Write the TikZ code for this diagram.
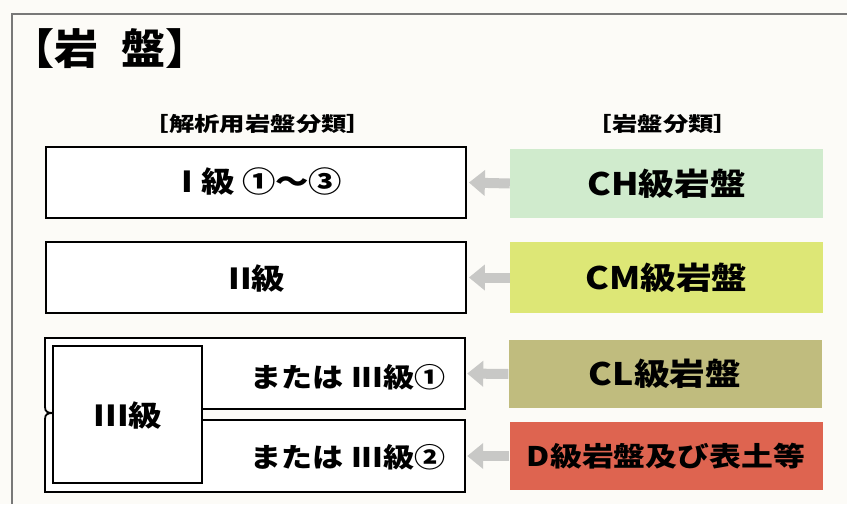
\documentclass[tikz,border=0pt]{standalone}
\usepackage{fontspec}
\usepackage{graphicx}
\setmainfont{Noto Sans CJK JP}[BoldFont={Noto Sans CJK JP Black}]
\usetikzlibrary{arrows.meta}
\definecolor{bgpaper}{RGB}{252,251,247}
\definecolor{framegray}{RGB}{120,120,120}
\definecolor{chgreen}{RGB}{208,235,205}
\definecolor{cmyellow}{RGB}{221,231,118}
\definecolor{clolive}{RGB}{192,188,126}
\definecolor{dred}{RGB}{222,100,80}
\definecolor{arrowgray}{RGB}{200,200,198}
\newcommand{\widen}[2][1.15]{\scalebox{#1}[1]{#2}}
\tikzset{
  whitebox/.style={draw=black, line width=1.8pt, fill=white, minimum width=420pt, minimum height=71pt, inner sep=0pt},
  ghostbox/.style={draw=none, minimum width=420pt, minimum height=71pt, inner sep=0pt},
  colbox/.style={draw=none, minimum width=313pt, minimum height=69pt, inner sep=0pt, font=\fontsize{31}{31}\selectfont\bfseries},
  boxtext/.style={inner sep=0pt, font=\fontsize{29}{29}\selectfont\bfseries},
  hdr/.style={inner sep=0pt, font=\fontsize{20}{20}\selectfont\bfseries},
  ptr/.style={draw=arrowgray, line width=10pt, -{Triangle[length=16pt,width=25pt]}, shorten >=2pt, shorten <=0pt},
  outline/.style={draw=black, line width=1.8pt}
}
\begin{document}
\begin{tikzpicture}[x=1pt,y=-1pt]
\useasboundingbox (0,0) rectangle (847,504);
\fill[bgpaper] (0,0) rectangle (847,504);
% frame
\draw[framegray, line width=2pt] (12,504) -- (12,14) -- (847,14);
% title
\node[inner sep=0pt, font=\fontsize{42}{42}\selectfont\bfseries] (title) at (110,49) {\widen[1.05]{【岩\hspace{22pt}盤】}};
% headers
\node[hdr] (hleft) at (258,124) {\widen[1.27]{［解析用岩盤分類］}};
\node[hdr] (hright) at (663,124) {\widen[1.27]{［岩盤分類］}};
% left boxes
\node[whitebox] (b1) at (256,182.5) {};
\node[boxtext] (t1) at (262,182) {\widen{I 級 ①〜③}};
\node[whitebox] (b2) at (256,277.5) {};
\node[boxtext] (t2) at (257,279) {\widen{II級}};
% boxes 3/4
\node[ghostbox] (b3) at (255,373.5) {};
\node[ghostbox, minimum height=72pt] (b4) at (255,456) {};
\fill[white] (45,338) rectangle (465,409);
\fill[white] (45,420) rectangle (465,492);
\draw[outline] (202,409) -- (465,409) -- (465,338) -- (45,338) -- (45,407) .. controls (45,412) and (48,413) .. (53,413);
\draw[outline] (202,420) -- (465,420) -- (465,492) -- (45,492) -- (45,419) .. controls (45,414) and (48,413) .. (53,413);
\node[draw=black, line width=1.8pt, fill=white, minimum width=149pt, minimum height=137pt, inner sep=0pt] (b3in) at (127.5,414.5) {};
\node[boxtext] (t3in) at (128,416) {\widen{III級}};
\node[boxtext, anchor=east, font=\fontsize{27}{27}\selectfont\bfseries] (t3) at (446,377) {\widen{または III級①}};
\node[boxtext, anchor=east, font=\fontsize{27}{27}\selectfont\bfseries] (t4) at (446,457) {\widen{または III級②}};
% right coloured boxes
\node[colbox, fill=chgreen] (ch) at (666.5,183.5) {\widen{CH級岩盤}};
\node[colbox, fill=cmyellow, minimum height=71pt] (cm) at (666.5,277.5) {\widen{CM級岩盤}};
\node[colbox, fill=clolive, minimum height=68pt] (cl) at (665,374) {\widen{CL級岩盤}};
\node[colbox, fill=dred, minimum height=68pt, font=\fontsize{27}{27}\selectfont\bfseries] (dd) at (666,456) {\widen[1.18]{D級岩盤及び表土等}};
% arrows
\draw[ptr] (ch.west) -- (b1.east);
\draw[ptr] (cm.west) -- (b2.east);
\draw[ptr] (cl.west) -- (b3.east);
\draw[ptr] (dd.west) -- (b4.east);
\end{tikzpicture}
\end{document}
